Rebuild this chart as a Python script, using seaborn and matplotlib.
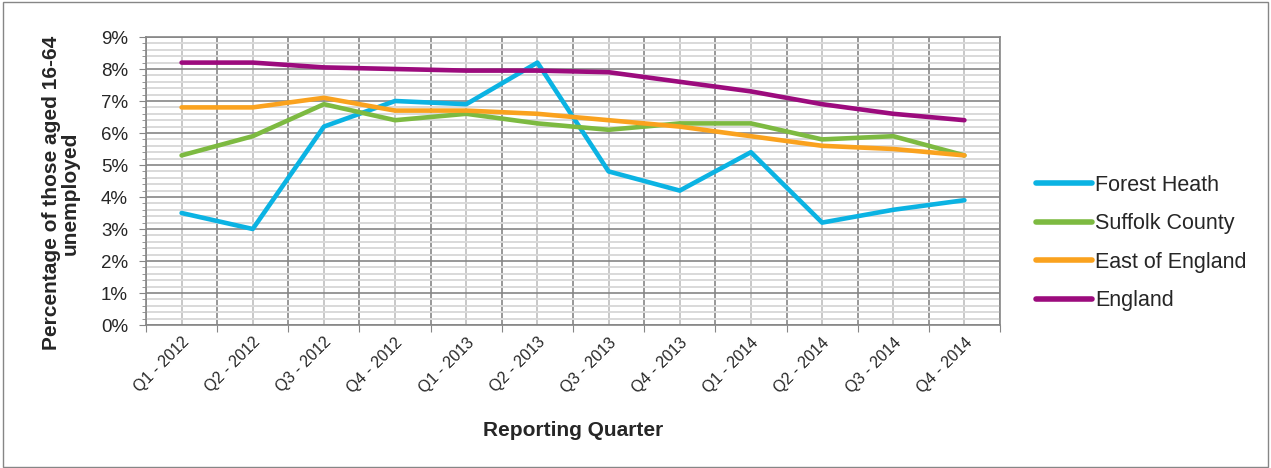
import pandas as pd
import matplotlib.pyplot as plt
import matplotlib.ticker as mticker
from matplotlib.patches import Rectangle
import seaborn as sns

# data (percent of those aged 16-64 unemployed)
quarters = ['Q1 - 2012', 'Q2 - 2012', 'Q3 - 2012', 'Q4 - 2012',
            'Q1 - 2013', 'Q2 - 2013', 'Q3 - 2013', 'Q4 - 2013',
            'Q1 - 2014', 'Q2 - 2014', 'Q3 - 2014', 'Q4 - 2014']
forest_heath = [3.5, 3.0, 6.2, 7.0, 6.9, 8.2, 4.8, 4.2, 5.4, 3.2, 3.6, 3.9]
suffolk = [5.3, 5.9, 6.9, 6.4, 6.6, 6.3, 6.1, 6.3, 6.3, 5.8, 5.9, 5.3]
east_england = [6.8, 6.8, 7.1, 6.7, 6.7, 6.6, 6.4, 6.2, 5.9, 5.6, 5.5, 5.3]
england = [8.2, 8.2, 8.05, 8.0, 7.95, 7.95, 7.9, 7.6, 7.3, 6.9, 6.6, 6.4]

areas = ['Forest Heath', 'Suffolk County', 'East of England', 'England']
colors = ['#0BB3E3', '#7DBA41', '#FAA21E', '#9C0B7D']

df = pd.DataFrame({'quarter': quarters * 4,
                   'value': forest_heath + suffolk + east_england + england,
                   'area': [a for a in areas for _ in quarters]})

sns.set_style('white')
plt.rcParams['font.family'] = ['Liberation Sans', 'DejaVu Sans']

fig = plt.figure(figsize=(12.71, 4.68), dpi=100)
ax = fig.add_axes([146 / 1271, 1 - 325 / 468, (1000 - 146) / 1271, (325 - 37) / 468])

sns.lineplot(data=df, x='quarter', y='value', hue='area', hue_order=areas,
             palette=colors, linewidth=3.3, sort=False, ax=ax, legend=True)

# axes ranges and grid
n = len(quarters)
ax.set_xlim(-0.5, n - 0.5)
ax.set_ylim(0, 9)
ax.set_xticks([i - 0.5 for i in range(n + 1)])
ax.set_xticklabels([])
ax.set_xticks(range(n), minor=True)
ax.set_xticklabels(quarters, minor=True, rotation=45, ha='right',
                   rotation_mode='anchor', fontsize=11.5)
ax.yaxis.set_major_locator(mticker.MultipleLocator(1))
ax.yaxis.set_minor_locator(mticker.MultipleLocator(0.2))
ax.yaxis.set_major_formatter(mticker.FuncFormatter(lambda v, p: '%d%%' % v))

ax.grid(which='major', color='#868686', linewidth=1.2)
ax.grid(which='minor', axis='y', color='#D9D9D9', linewidth=1.4)
ax.grid(which='minor', axis='x', color='#BFBFBF', linewidth=1.2)
ax.set_axisbelow(True)

ax.tick_params(axis='x', which='major', direction='out', length=5, color='#868686', bottom=True)
ax.tick_params(axis='x', which='minor', length=0, pad=7)
ax.tick_params(axis='y', which='major', direction='out', length=5, color='#868686',
               left=True, labelsize=13.5, pad=8)
ax.tick_params(axis='y', which='minor', direction='out', length=3, color='#868686', left=True)

for s in ax.spines.values():
    s.set_color('#868686')
    s.set_linewidth(1.2)

ax.set_xlabel('Reporting Quarter', fontsize=15, fontweight='bold')
ax.xaxis.set_label_coords(0.5, -(421 - 325) / 288)
ax.set_ylabel('Percentage of those aged 16-64\nunemployed', fontsize=15,
              fontweight='bold', linespacing=1.0)
ax.yaxis.set_label_coords((80 - 146) / 854, (325 - 193) / 288)

# legend on the right
h, l = ax.get_legend_handles_labels()
ax.get_legend().remove()
for hh in h:
    hh.set_linewidth(4)
fig.legend(h, l, loc='center left', bbox_to_anchor=(1036 / 1271, 1 - 243 / 468),
           bbox_transform=fig.transFigure, frameon=False, fontsize=15.5,
           handlelength=2.6, handletextpad=0.15, labelspacing=0.82,
           borderpad=0, borderaxespad=0)

# thin border round the chart
fig.patches.append(Rectangle((0.002, 0.002), 0.996, 0.994, transform=fig.transFigure,
                             fill=False, edgecolor='#868686', linewidth=1))

fig.savefig('out.png', dpi=100)
